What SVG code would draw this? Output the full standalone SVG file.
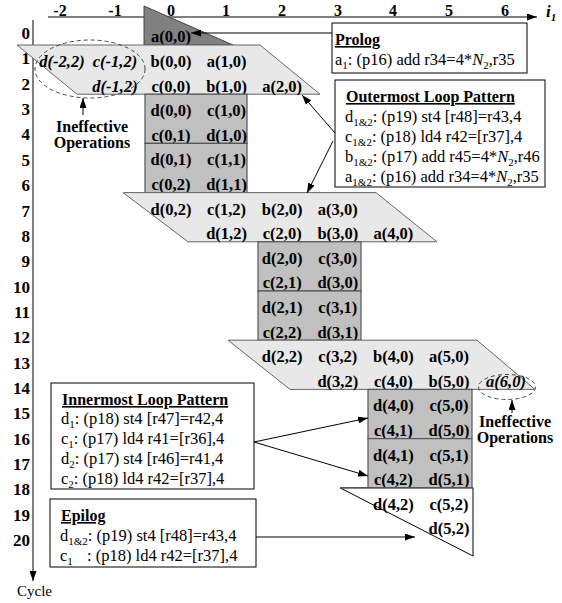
<svg xmlns="http://www.w3.org/2000/svg" width="562" height="603" viewBox="0 0 562 603">
<defs>
<marker id="ah" markerUnits="userSpaceOnUse" markerWidth="10" markerHeight="7" refX="10" refY="3.5" orient="auto"><path d="M0,0 L10,3.5 L0,7 z" fill="#000"/></marker>
<style>
text{font-family:"Liberation Serif","Times New Roman",serif;fill:#000}
.cell{font-weight:bold;font-size:16.5px;text-anchor:middle}
.it{font-style:italic}
.lab{font-weight:bold;font-size:17px;text-anchor:end}
.col{font-weight:bold;font-size:16px;text-anchor:middle}
.txt{font-size:16.5px}
.ttl{font-size:16px;font-weight:bold;text-decoration:underline}
.sub{font-size:11px}
.note{font-weight:bold;font-size:16px;text-anchor:middle}
.blk{fill:#c0c0c0;stroke:#555;stroke-width:1.2}
.par{fill:#e8e8e8;stroke:#666;stroke-width:1}
.box{fill:#fff;stroke:#000;stroke-width:1}
.ln{stroke:#000;stroke-width:1;fill:none}
.dash{fill:none;stroke:#444;stroke-width:1;stroke-dasharray:4,3}
</style>
</defs>
<rect width="562" height="603" fill="#fff"/>

<g id="axes">
<line class="ln" x1="48" y1="17" x2="537" y2="17" marker-end="url(#ah)" stroke-width="1.3"/>
<text x="546" y="17" font-size="17" font-weight="bold" font-style="italic">i<tspan class="sub" dy="4">1</tspan></text>
<line class="ln" x1="33" y1="20" x2="33" y2="581" marker-end="url(#ah)" stroke-width="1.5"/>
<text x="17" y="596" font-size="15">Cycle</text>
<text class="col" x="60" y="16">-2</text>
<text class="col" x="115" y="16">-1</text>
<text class="col" x="171" y="16">0</text>
<text class="col" x="226" y="16">1</text>
<text class="col" x="282" y="16">2</text>
<text class="col" x="338" y="16">3</text>
<text class="col" x="393" y="16">4</text>
<text class="col" x="449" y="16">5</text>
<text class="col" x="505" y="16">6</text>
<text class="lab" x="30" y="39">0</text>
<text class="lab" x="30" y="64.4">1</text>
<text class="lab" x="30" y="89.7">2</text>
<text class="lab" x="30" y="115">3</text>
<text class="lab" x="30" y="140.4">4</text>
<text class="lab" x="30" y="165.8">5</text>
<text class="lab" x="30" y="191.1">6</text>
<text class="lab" x="30" y="216.5">7</text>
<text class="lab" x="30" y="241.8">8</text>
<text class="lab" x="30" y="267.2">9</text>
<text class="lab" x="30" y="292.5">10</text>
<text class="lab" x="30" y="317.9">11</text>
<text class="lab" x="30" y="343.2">12</text>
<text class="lab" x="30" y="368.6">13</text>
<text class="lab" x="30" y="393.9">14</text>
<text class="lab" x="30" y="419.3">15</text>
<text class="lab" x="30" y="444.6">16</text>
<text class="lab" x="30" y="470">17</text>
<text class="lab" x="30" y="495.3">18</text>
<text class="lab" x="30" y="520.7">19</text>
<text class="lab" x="30" y="546">20</text>
</g>

<g id="prolog-op">
<polygon points="144,6 144,45 233,45" fill="#808080" stroke="#444" stroke-width="1"/>
<text class="cell" x="171" y="42.4">a(0,0)</text>
</g>

<g id="para1">
<polygon class="par" points="17,45 260,45 320,94.2 77,94.2"/>
<text class="cell it" x="62" y="67">d(-2,2)</text>
<text class="cell it" x="115" y="67">c(-1,2)</text>
<text class="cell" x="171" y="67">b(0,0)</text>
<text class="cell" x="226.6" y="67">a(1,0)</text>
<text class="cell it" x="115" y="91.6">d(-1,2)</text>
<text class="cell" x="171" y="91.6">c(0,0)</text>
<text class="cell" x="226.6" y="91.6">b(1,0)</text>
<text class="cell" x="282.2" y="91.6">a(2,0)</text>
</g>

<g id="block1">
<rect class="blk" x="145" y="94.2" width="102" height="49.2"/>
<text class="cell" x="171" y="116.2">d(0,0)</text>
<text class="cell" x="226.6" y="116.2">c(1,0)</text>
<text class="cell" x="171" y="140.8">c(0,1)</text>
<text class="cell" x="226.6" y="140.8">d(1,0)</text>
</g>
<g id="block2">
<rect class="blk" x="145" y="143.4" width="102" height="49.2"/>
<text class="cell" x="171" y="165.4">d(0,1)</text>
<text class="cell" x="226.6" y="165.4">c(1,1)</text>
<text class="cell" x="171" y="190">c(0,2)</text>
<text class="cell" x="226.6" y="190">d(1,1)</text>
</g>

<g id="para2">
<polygon class="par" points="123,192.6 376,192.6 437,241.8 188,241.8"/>
<text class="cell" x="171" y="214.6">d(0,2)</text>
<text class="cell" x="226.6" y="214.6">c(1,2)</text>
<text class="cell" x="282.2" y="214.6">b(2,0)</text>
<text class="cell" x="337.8" y="214.6">a(3,0)</text>
<text class="cell" x="226.6" y="239.2">d(1,2)</text>
<text class="cell" x="282.2" y="239.2">c(2,0)</text>
<text class="cell" x="337.8" y="239.2">b(3,0)</text>
<text class="cell" x="393.4" y="239.2">a(4,0)</text>
</g>

<g id="block3">
<rect class="blk" x="258" y="241.8" width="103" height="49.2"/>
<text class="cell" x="282.2" y="263.8">d(2,0)</text>
<text class="cell" x="337.8" y="263.8">c(3,0)</text>
<text class="cell" x="282.2" y="288.4">c(2,1)</text>
<text class="cell" x="337.8" y="288.4">d(3,0)</text>
</g>
<g id="block4">
<rect class="blk" x="258" y="291" width="103" height="49.2"/>
<text class="cell" x="282.2" y="313">d(2,1)</text>
<text class="cell" x="337.8" y="313">c(3,1)</text>
<text class="cell" x="282.2" y="337.6">c(2,2)</text>
<text class="cell" x="337.8" y="337.6">d(3,1)</text>
</g>

<g id="para3">
<polygon class="par" points="228,340.2 477,340.2 535,389.4 290,389.4"/>
<text class="cell" x="282.2" y="362.2">d(2,2)</text>
<text class="cell" x="337.8" y="362.2">c(3,2)</text>
<text class="cell" x="393.4" y="362.2">b(4,0)</text>
<text class="cell" x="449" y="362.2">a(5,0)</text>
<text class="cell" x="337.8" y="386.8">d(3,2)</text>
<text class="cell" x="393.4" y="386.8">c(4,0)</text>
<text class="cell" x="449" y="386.8">b(5,0)</text>
<text class="cell it" x="506" y="386.8" font-weight="normal">a(6,0)</text>
</g>

<g id="block5">
<rect class="blk" x="368" y="389.4" width="104" height="49.2"/>
<text class="cell" x="393.4" y="411.4">d(4,0)</text>
<text class="cell" x="449" y="411.4">c(5,0)</text>
<text class="cell" x="393.4" y="436">c(4,1)</text>
<text class="cell" x="449" y="436">d(5,0)</text>
</g>
<g id="block6">
<rect class="blk" x="368" y="438.6" width="104" height="49.2"/>
<text class="cell" x="393.4" y="460.6">d(4,1)</text>
<text class="cell" x="449" y="460.6">c(5,1)</text>
<text class="cell" x="393.4" y="485.2">c(4,2)</text>
<text class="cell" x="449" y="485.2">d(5,1)</text>
</g>

<g id="epilog-ops">
<polygon points="340,487.8 473,487.8 473,556" fill="#fff" stroke="#000" stroke-width="1"/>
<line x1="340" y1="487.8" x2="472" y2="487.8" stroke="#555" stroke-width="1.5"/>
<text class="cell" x="393.4" y="509.8">d(4,2)</text>
<text class="cell" x="449" y="509.8">c(5,2)</text>
<text class="cell" x="449" y="534.4">d(5,2)</text>
</g>

<g id="ineffective-left">
<ellipse class="dash" cx="90" cy="69" rx="55" ry="29"/>
<text class="note" x="92" y="132">Ineffective</text>
<text class="note" x="92" y="148">Operations</text>
</g>
<g id="ineffective-right">
<ellipse class="dash" cx="507" cy="387" rx="28.5" ry="12.5"/>
<text class="note" x="515" y="427" font-size="14">Ineffective</text>
<text class="note" x="515" y="443" font-size="14">Operations</text>
</g>

<g id="prolog-box">
<rect class="box" x="332" y="23" width="195" height="50"/>
<text class="ttl" x="335" y="45">Prolog</text>
<text class="txt" x="335" y="65">a<tspan class="sub" dy="4">1</tspan><tspan dy="-4">: (p16) add r34=4*</tspan><tspan font-style="italic">N</tspan><tspan class="sub" dy="4">2</tspan><tspan dy="-4">,r35</tspan></text>
</g>

<g id="outermost-box">
<rect class="box" x="335" y="80" width="210" height="107"/>
<text class="ttl" x="346" y="102">Outermost Loop Pattern</text>
<text class="txt" x="345" y="122">d<tspan class="sub" dy="4">1&amp;2</tspan><tspan dy="-4">: (p19) st4 [r48]=r43,4</tspan></text>
<text class="txt" x="345" y="142">c<tspan class="sub" dy="4">1&amp;2</tspan><tspan dy="-4">: (p18) ld4 r42=[r37],4</tspan></text>
<text class="txt" x="345" y="162">b<tspan class="sub" dy="4">1&amp;2</tspan><tspan dy="-4">: (p17) add r45=4*</tspan><tspan font-style="italic">N</tspan><tspan class="sub" dy="4">2</tspan><tspan dy="-4">,r46</tspan></text>
<text class="txt" x="345" y="182">a<tspan class="sub" dy="4">1&amp;2</tspan><tspan dy="-4">: (p16) add r34=4*</tspan><tspan font-style="italic">N</tspan><tspan class="sub" dy="4">2</tspan><tspan dy="-4">,r35</tspan></text>
</g>

<g id="innermost-box">
<rect class="box" x="51" y="383" width="203" height="106"/>
<text class="ttl" x="62" y="405">Innermost Loop Pattern</text>
<text class="txt" x="61" y="424">d<tspan class="sub" dy="4">1</tspan><tspan dy="-4">: (p18) st4 [r47]=r42,4</tspan></text>
<text class="txt" x="61" y="444">c<tspan class="sub" dy="4">1</tspan><tspan dy="-4">: (p17) ld4 r41=[r36],4</tspan></text>
<text class="txt" x="61" y="464">d<tspan class="sub" dy="4">2</tspan><tspan dy="-4">: (p17) st4 [r46]=r41,4</tspan></text>
<text class="txt" x="61" y="484">c<tspan class="sub" dy="4">2</tspan><tspan dy="-4">: (p18) ld4 r42=[r37],4</tspan></text>
</g>

<g id="epilog-box">
<rect class="box" x="50" y="499" width="206" height="68"/>
<text class="ttl" x="61" y="521">Epilog</text>
<text class="txt" x="60" y="541">d<tspan class="sub" dy="4">1&amp;2</tspan><tspan dy="-4">: (p19) st4 [r48]=r43,4</tspan></text>
<text class="txt" x="60" y="561">c<tspan class="sub" dy="4">1</tspan><tspan x="87" dy="-4">: (p18) ld4 r42=[r37],4</tspan></text>
</g>

<g id="connectors">
<line class="ln" x1="332" y1="33" x2="191" y2="33" marker-end="url(#ah)"/>
<line class="ln" x1="335" y1="133" x2="302" y2="95" marker-end="url(#ah)"/>
<line class="ln" x1="333" y1="141" x2="307" y2="193" marker-end="url(#ah)"/>
<line class="ln" x1="254" y1="442" x2="368" y2="418" marker-end="url(#ah)"/>
<line class="ln" x1="254" y1="442" x2="368" y2="476" marker-end="url(#ah)"/>
<line class="ln" x1="256" y1="537" x2="415" y2="537" marker-end="url(#ah)"/>
<line class="ln" x1="83" y1="115" x2="83" y2="98" marker-end="url(#ah)"/>
<line class="ln" x1="512" y1="413" x2="512" y2="400" marker-end="url(#ah)"/>
</g>
</svg>
